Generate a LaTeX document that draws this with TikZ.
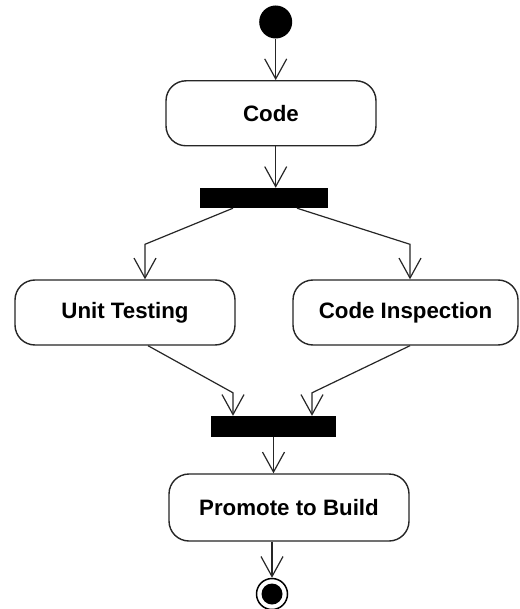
\documentclass[tikz,border=0pt]{standalone}
\usepackage{fontspec}
\setmainfont{Liberation Sans}
\usetikzlibrary{arrows.meta}

\tikzset{
  action/.style={draw=black!85, line width=1.4pt, rounded corners=20pt,
    minimum height=65pt, inner sep=0pt,
    font=\fontsize{22.3}{26}\selectfont\bfseries},
  syncbar/.style={fill=black, draw=none, inner sep=0pt, minimum height=20pt},
  initial/.style={circle, fill=black, minimum size=33pt, inner sep=0pt},
  final/.style={circle, draw=black, line width=1.5pt, minimum size=31pt, inner sep=0pt},
  flow/.style={draw=black!85, line width=1.2pt,
    -{Straight Barb[length=20pt,width=22pt,line width=1.2pt]}},
}

\begin{document}
\begin{tikzpicture}[x=1pt, y=-1pt]
  \useasboundingbox[fill=white] (0,0) rectangle (519,609);

  % activity nodes
  \node[initial] (start) at (275.7,22) {};
  \node[action, minimum width=210pt] (code) at (271,113.3) {Code};
  \node[syncbar, minimum width=128pt] (fork) at (264,198) {};
  \node[action, minimum width=220pt] (unit) at (125,312.5) {Unit Testing};
  \node[action, minimum width=225pt] (insp) at (405.5,312.5) {Code Inspection};
  \node[syncbar, minimum width=125pt, minimum height=21pt] (join) at (273.5,426.5) {};
  \node[action, minimum width=240pt, minimum height=67pt] (promote) at (289,507.5) {Promote to Build};
  \node[final] (stop) at (272,594) {};
  \fill (stop) circle (10.5pt);

  % control flows
  \draw[flow] (start) -- (start |- code.north);
  \draw[flow] (code.south -| start) -- (fork.north -| start);

  \draw[flow] ([xshift=-31pt]fork.south) -- ([xshift=20pt,yshift=35pt]unit.north)
              -- ([xshift=20pt]unit.north);
  \draw[flow] ([xshift=33pt]fork.south) -- ([xshift=4.5pt,yshift=35pt]insp.north)
              -- ([xshift=4.5pt]insp.north);

  \draw[flow] ([xshift=23pt]unit.south) -- ([xshift=-40.5pt,yshift=23pt]join.north)
              -- ([xshift=-40.5pt]join.north);
  \draw[flow] ([xshift=4.5pt]insp.south) -- ([xshift=38.5pt,yshift=23pt]join.north)
              -- ([xshift=38.5pt]join.north);

  \draw[flow] (join.south) -- (join.south |- promote.north);
  \draw[flow] (promote.south -| stop) -- (stop.north);
\end{tikzpicture}
\end{document}
